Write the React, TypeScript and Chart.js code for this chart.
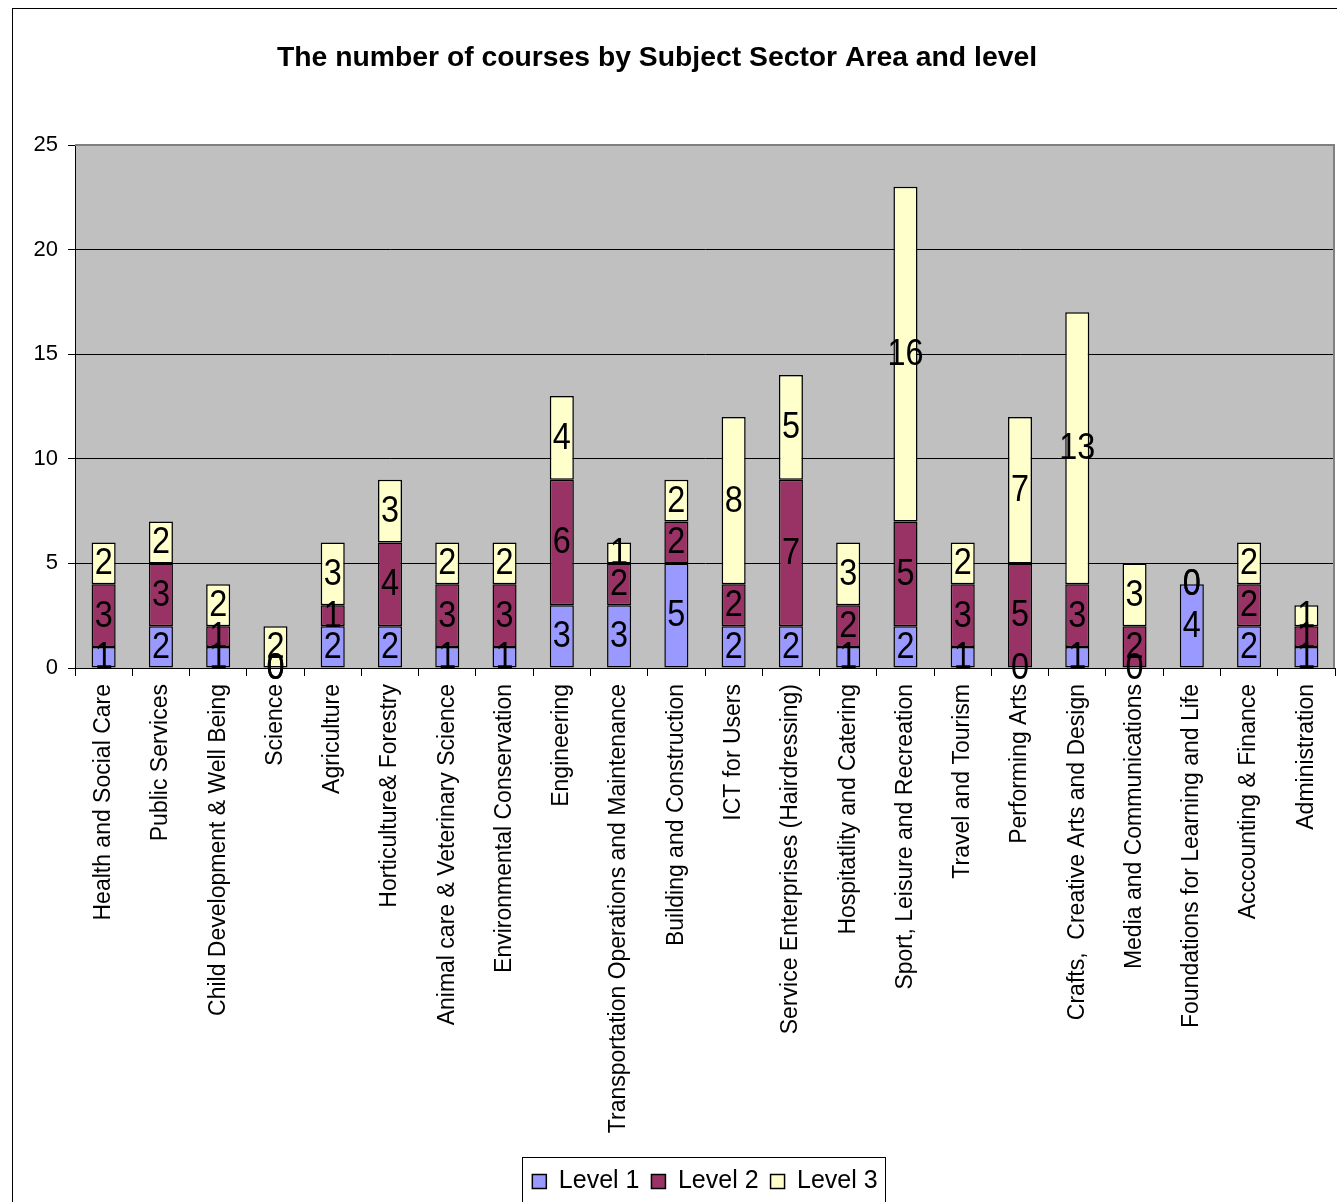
import React, { useEffect, useRef } from 'react';
import { Chart, registerables } from 'chart.js';

Chart.register(...registerables);

const categories = [
  'Health and Social Care',
  'Public Services',
  'Child Development & Well Being',
  'Science',
  'Agriculture',
  'Horticulture& Forestry',
  'Animal care & Veterinary Science',
  'Environmental Conservation',
  'Engineering',
  'Transportation Operations and Maintenance',
  'Building and Construction',
  'ICT for Users',
  'Service Enterprises (Hairdressing)',
  'Hospitatlity and Catering',
  'Sport, Leisure and Recreation',
  'Travel and Tourism',
  'Performing Arts',
  'Crafts,  Creative Arts and Design',
  'Media and Communications',
  'Foundations for Learning and Life',
  'Acccounting & Finance',
  'Administration',
];

const level1 = [1, 2, 1, 0, 2, 2, 1, 1, 3, 3, 5, 2, 2, 1, 2, 1, 0, 1, 0, 4, 2, 1];
const level2 = [3, 3, 1, 0, 1, 4, 3, 3, 6, 2, 2, 2, 7, 2, 5, 3, 5, 3, 2, 0, 2, 1];
const level3 = [2, 2, 2, 2, 3, 3, 2, 2, 4, 1, 2, 8, 5, 3, 16, 2, 7, 13, 3, 0, 2, 1];

const seriesNames = ['Level 1', 'Level 2', 'Level 3'];
const yMin = 0;
const yMax = 25;
const yStep = 5;
const title = 'The number of courses by Subject Sector Area and level';

const FONT = '"Liberation Sans", Arial, Helvetica, sans-serif';

const decorPlugin = {
  id: 'decor',
  beforeDraw(chart: any) {
    const { ctx, chartArea } = chart;
    ctx.save();
    ctx.fillStyle = '#ffffff';
    ctx.fillRect(0, 0, chart.width, chart.height);
    ctx.fillStyle = '#C0C0C0';
    ctx.fillRect(chartArea.left, chartArea.top, chartArea.right - chartArea.left, chartArea.bottom - chartArea.top);
    ctx.restore();
  },
  beforeDatasetsDraw(chart: any) {
    const { ctx, chartArea } = chart;
    ctx.save();
    ctx.strokeStyle = '#808080';
    ctx.lineWidth = 2;
    ctx.beginPath();
    ctx.moveTo(chartArea.left, chartArea.top);
    ctx.lineTo(chartArea.right - 1, chartArea.top);
    ctx.lineTo(chartArea.right - 1, chartArea.bottom);
    ctx.stroke();
    ctx.restore();
  },
  afterDraw(chart: any) {
    const { ctx } = chart;
    ctx.save();
    // outer frame
    ctx.strokeStyle = '#000000';
    ctx.lineWidth = 1;
    ctx.strokeRect(12.5, 8.5, 3000, 3000);

    // title
    ctx.font = `bold 28px ${FONT}`;
    ctx.fillStyle = '#000';
    ctx.textBaseline = 'middle';
    ctx.textAlign = 'center';
    const w = ctx.measureText(title).width;
    ctx.translate(657, 58);
    ctx.scale(760 / w, 1);
    ctx.fillText(title, 0, 0);
    ctx.restore();

    // data labels
    ctx.save();
    ctx.font = `36px ${FONT}`;
    ctx.fillStyle = '#000';
    ctx.textAlign = 'center';
    ctx.textBaseline = 'middle';
    chart.data.datasets.forEach((ds: any, i: number) => {
      const meta = chart.getDatasetMeta(i);
      meta.data.forEach((el: any, j: number) => {
        const v = ds.data[j];
        const cy = (el.y + el.base) / 2;
        ctx.save();
        ctx.translate(el.x, cy + 1);
        ctx.scale(0.9, 1);
        ctx.fillText(String(v), 0, 0);
        ctx.restore();
      });
    });
    ctx.restore();

    // legend border
    const lg = chart.legend;
    if (lg && lg.legendHitBoxes && lg.legendHitBoxes.length) {
      const boxes = lg.legendHitBoxes;
      const l = Math.min(...boxes.map((b: any) => b.left)) - 10;
      const r = Math.max(...boxes.map((b: any) => b.left + b.width)) + 8;
      ctx.save();
      ctx.strokeStyle = '#000';
      ctx.lineWidth = 1;
      ctx.strokeRect(Math.round(l) + 0.5, Math.round(lg.top) + 0.5, Math.round(r - l), 200);
      ctx.restore();
    }
  },
};

export default function App() {
  const ref = useRef<HTMLCanvasElement | null>(null);

  useEffect(() => {
    if (!ref.current) return;
    const chart = new Chart(ref.current, {
      type: 'bar',
      data: {
        labels: categories,
        datasets: [
          { label: seriesNames[0], data: level1, backgroundColor: '#9999FF', borderColor: '#000', borderWidth: 1.5, borderSkipped: false },
          { label: seriesNames[1], data: level2, backgroundColor: '#993366', borderColor: '#000', borderWidth: 1.5, borderSkipped: false },
          { label: seriesNames[2], data: level3, backgroundColor: '#FFFFCC', borderColor: '#000', borderWidth: 1.5, borderSkipped: false },
        ],
      },
      options: {
        responsive: false,
        animation: false,
        devicePixelRatio: 1,
        layout: { padding: { left: 20, right: 2, top: 145, bottom: 0 } },
        datasets: { bar: { categoryPercentage: 0.42, barPercentage: 1 } },
        plugins: {
          title: { display: false },
          tooltip: { enabled: false },
          legend: {
            display: true,
            position: 'bottom',
            fullSize: false,
            labels: {
              boxWidth: 14,
              boxHeight: 14,
              padding: 12,
              color: '#000',
              font: { family: FONT, size: 25 },
            },
          },
        },
        scales: {
          x: {
            stacked: true,
            grid: { offset: true, drawOnChartArea: false, drawTicks: true, tickLength: 8, color: '#000' },
            border: { display: true, color: '#000', width: 1 },
            ticks: {
              autoSkip: false,
              maxRotation: 90,
              minRotation: 90,
              padding: 8,
              color: '#000',
              font: { family: FONT, size: 23 },
            },
            afterFit(scale: any) {
              scale.height = 489;
              scale.paddingLeft = 0;
              scale.paddingRight = 0;
            },
          },
          y: {
            stacked: true,
            min: yMin,
            max: yMax,
            ticks: { stepSize: yStep, padding: 10, color: '#000', font: { family: FONT, size: 22 } },
            grid: {
              color: (c: any) => (c.tick && c.tick.value === yMax ? '#808080' : '#000'),
              lineWidth: 1,
              tickLength: 7,
              tickColor: '#000',
            },
            border: { display: true, color: '#000', width: 1 },
            afterFit(scale: any) {
              scale.width = 55;
              scale.paddingTop = 0;
              scale.paddingBottom = 0;
            },
          },
        },
      },
      plugins: [decorPlugin],
    } as any);
    return () => chart.destroy();
  }, []);

  return (
    <div style={{ position: 'absolute', left: 0, top: 0, width: 1337, height: 1202, overflow: 'hidden' }}>
      <canvas ref={ref} width={1337} height={1204} style={{ display: 'block', width: 1337, height: 1204 }} />
    </div>
  );
}
